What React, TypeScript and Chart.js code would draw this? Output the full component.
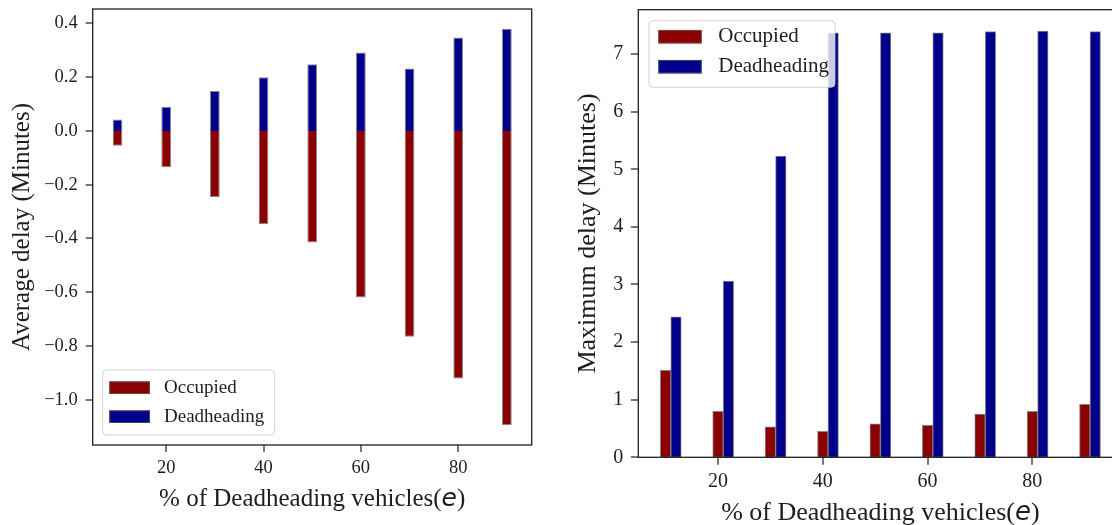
import React, { useEffect, useRef } from "react";
import { Chart, registerables } from "chart.js";

Chart.register(...registerables);

// ---------- data ----------
const categories = [10, 20, 30, 40, 50, 60, 70, 80, 90];
const seriesNames = ["Occupied", "Deadheading"];
const avgOccupied = [-0.055, -0.135, -0.246, -0.346, -0.415, -0.62, -0.766, -0.921, -1.095];
const avgDeadheading = [0.043, 0.09, 0.149, 0.2, 0.248, 0.292, 0.232, 0.348, 0.38];
const maxOccupied = [1.51, 0.8, 0.53, 0.45, 0.58, 0.555, 0.75, 0.8, 0.92];
const maxDeadheading = [2.44, 3.06, 5.23, 7.37, 7.37, 7.37, 7.39, 7.4, 7.39];
const xTicks = [20, 40, 60, 80];
const avgYTicks = [0.4, 0.2, 0, -0.2, -0.4, -0.6, -0.8, -1.0];
const maxYTicks = [0, 1, 2, 3, 4, 5, 6, 7];
const barWidthUnits = 2;
const deadheadingShift = 2; // second series drawn next to the first in the right panel

// ---------- styles ----------
const RED = "#8b0000";
const BLUE = "#00008b";
const EDGE = "rgba(95,95,95,0.75)";
const INK = "#1e1e1e";
const SERIF = "'Liberation Serif', 'Times New Roman', serif";

const spacing = categories[1] - categories[0];

function padRange(lo: number, hi: number, frac = 0.05): [number, number] {
  const r = hi - lo;
  return [lo - r * frac, hi + r * frac];
}

function fixSize(prop: "width" | "height", v: number) {
  return (s: any) => {
    s[prop] = v;
    s.paddingTop = 0;
    s.paddingBottom = 0;
    s.paddingLeft = 0;
    s.paddingRight = 0;
  };
}

const decorPlugin = {
  id: "decor",
  afterDatasetsDraw(chart: any, _args: any, opts: any) {
    const ctx = chart.ctx as CanvasRenderingContext2D;
    const a = chart.chartArea;
    ctx.save();
    // frame
    ctx.strokeStyle = INK;
    ctx.lineWidth = opts.frameWidth;
    ctx.strokeRect(a.left, a.top, a.right - a.left, a.bottom - a.top);

    // legend
    const L = opts.legend;
    const bx = a.left + L.dx;
    const by = L.fromBottom ? a.bottom - L.dy - L.h : a.top + L.dy;
    const r = 4;
    ctx.beginPath();
    ctx.moveTo(bx + r, by);
    ctx.lineTo(bx + L.w - r, by);
    ctx.quadraticCurveTo(bx + L.w, by, bx + L.w, by + r);
    ctx.lineTo(bx + L.w, by + L.h - r);
    ctx.quadraticCurveTo(bx + L.w, by + L.h, bx + L.w - r, by + L.h);
    ctx.lineTo(bx + r, by + L.h);
    ctx.quadraticCurveTo(bx, by + L.h, bx, by + L.h - r);
    ctx.lineTo(bx, by + r);
    ctx.quadraticCurveTo(bx, by, bx + r, by);
    ctx.closePath();
    ctx.fillStyle = "rgba(255,255,255,0.8)";
    ctx.fill();
    ctx.strokeStyle = "rgba(200,200,200,0.8)";
    ctx.lineWidth = 1;
    ctx.stroke();

    chart.data.datasets.forEach((ds: any, i: number) => {
      const cy = by + L.rowY[i];
      ctx.fillStyle = ds.backgroundColor;
      ctx.fillRect(bx + L.handleX, cy - L.handleH / 2, L.handleW, L.handleH);
      ctx.strokeStyle = EDGE;
      ctx.lineWidth = 1;
      ctx.strokeRect(bx + L.handleX + 0.5, cy - L.handleH / 2 + 0.5, L.handleW - 1, L.handleH - 1);
      ctx.fillStyle = INK;
      ctx.font = `${L.fontSize}px ${SERIF}`;
      ctx.textAlign = "left";
      ctx.textBaseline = "middle";
      ctx.fillText(ds.label, bx + L.textX, cy);
    });

    // x-axis title with italic math "e"
    const T = opts.xTitle;
    const parts = [
      { t: "% of Deadheading vehicles(", f: `${T.size}px ${SERIF}` },
      { t: "e", f: `italic ${T.size}px 'DejaVu Sans', sans-serif` },
      { t: ")", f: `${T.size}px ${SERIF}` },
    ];
    let total = 0;
    const widths = parts.map((p) => {
      ctx.font = p.f;
      const w = ctx.measureText(p.t).width;
      total += w;
      return w;
    });
    let x = (a.left + a.right) / 2 - total / 2;
    const y = a.bottom + T.baseline;
    ctx.fillStyle = INK;
    ctx.textAlign = "left";
    ctx.textBaseline = "alphabetic";
    parts.forEach((p, i) => {
      ctx.font = p.f;
      ctx.fillText(p.t, x, y);
      x += widths[i];
    });
    ctx.restore();
  },
};

function fmtAvg(v: number) {
  const s = Math.abs(v) < 1e-9 ? "0.0" : v.toFixed(1);
  return s.replace("-", "\u2212");
}

function makeLeft(canvas: HTMLCanvasElement) {
  const [xMin, xMax] = padRange(
    Math.min(...categories) - barWidthUnits / 2,
    Math.max(...categories) + barWidthUnits / 2
  );
  const [yMin, yMax] = padRange(Math.min(...avgOccupied), Math.max(...avgDeadheading));
  const barOpts = {
    borderColor: EDGE,
    borderWidth: 1,
    borderSkipped: "start",
    grouped: false,
    barPercentage: barWidthUnits / spacing,
    categoryPercentage: 1,
  };
  return new Chart(canvas, {
    type: "bar",
    data: {
      datasets: [
        {
          label: seriesNames[0],
          data: categories.map((c, i) => ({ x: c, y: avgOccupied[i] })),
          backgroundColor: RED,
          ...barOpts,
        },
        {
          label: seriesNames[1],
          data: categories.map((c, i) => ({ x: c, y: avgDeadheading[i] })),
          backgroundColor: BLUE,
          ...barOpts,
        },
      ],
    } as any,
    options: {
      animation: false,
      responsive: false,
      devicePixelRatio: 1,
      layout: { padding: { left: 0, top: 9, right: 24.3, bottom: 0 } },
      plugins: {
        legend: { display: false },
        tooltip: { enabled: false },
        decor: {
          frameWidth: 1.3,
          legend: {
            dx: 10, dy: 10, fromBottom: true, w: 172, h: 65,
            rowY: [17.7, 46.7], handleX: 6.6, handleW: 40.7, handleH: 12.6,
            textX: 61.3, fontSize: 19,
          },
          xTitle: { size: 25, baseline: 61 },
        },
      } as any,
      scales: {
        x: {
          type: "linear",
          min: xMin,
          max: xMax,
          offset: false,
          border: { display: false },
          grid: { display: true, offset: false, drawOnChartArea: false, lineWidth: 0, drawTicks: true, tickLength: 7, tickColor: INK, tickWidth: 1.2 },
          ticks: { color: INK, font: { family: SERIF, size: 18.5 }, padding: 5, maxRotation: 0, autoSkip: false, callback: (v: any) => String(v) },
          afterBuildTicks: (s: any) => { s.ticks = xTicks.map((v) => ({ value: v })); },
          afterFit: fixSize("height", 80),
        },
        y: {
          type: "linear",
          min: yMin,
          max: yMax,
          border: { display: false },
          grid: { display: true, drawOnChartArea: false, lineWidth: 0, drawTicks: true, tickLength: 7, tickColor: INK, tickWidth: 1.2 },
          ticks: { color: INK, font: { family: SERIF, size: 18.5 }, padding: 8, callback: (v: any) => fmtAvg(Number(v)) },
          afterBuildTicks: (s: any) => { s.ticks = avgYTicks.map((v) => ({ value: v })); },
          afterFit: fixSize("width", 92.7),
          title: { display: true, text: "Average delay (Minutes)", color: INK, font: { family: SERIF, size: 25 }, padding: { top: 7, bottom: 0 } },
        },
      } as any,
    },
    plugins: [decorPlugin as any],
  });
}

function makeRight(canvas: HTMLCanvasElement) {
  const shifted = categories.map((c) => c + deadheadingShift);
  const [xMin, xMax] = padRange(
    Math.min(...categories) - barWidthUnits / 2,
    Math.max(...shifted) + barWidthUnits / 2
  );
  const yMax = Math.max(...maxDeadheading, ...maxOccupied) * 1.05;
  const barOpts = {
    borderColor: EDGE,
    borderWidth: 1,
    borderSkipped: false,
    grouped: false,
    barPercentage: 1,
    categoryPercentage: 1,
  };
  return new Chart(canvas, {
    type: "bar",
    data: {
      datasets: [
        {
          label: seriesNames[0],
          data: categories.map((c, i) => ({ x: c, y: maxOccupied[i] })),
          backgroundColor: RED,
          ...barOpts,
        },
        {
          label: seriesNames[1],
          data: shifted.map((c, i) => ({ x: c, y: maxDeadheading[i] })),
          backgroundColor: BLUE,
          ...barOpts,
        },
      ],
    } as any,
    options: {
      animation: false,
      responsive: false,
      devicePixelRatio: 1,
      layout: { padding: { left: 0, top: 9.7, right: 33.5, bottom: 0 } },
      plugins: {
        legend: { display: false },
        tooltip: { enabled: false },
        decor: {
          frameWidth: 1.3,
          legend: {
            dx: 10.7, dy: 11, fromBottom: false, w: 186, h: 66.6,
            rowY: [16, 46], handleX: 9.3, handleW: 43.4, handleH: 13.5,
            textX: 69.3, fontSize: 21,
          },
          xTitle: { size: 26, baseline: 62.7 },
        },
      } as any,
      scales: {
        x: {
          type: "linear",
          min: xMin,
          max: xMax,
          offset: false,
          border: { display: false },
          grid: { display: true, offset: false, drawOnChartArea: false, lineWidth: 0, drawTicks: true, tickLength: 7.5, tickColor: INK, tickWidth: 1.2 },
          ticks: { color: INK, font: { family: SERIF, size: 20 }, padding: 5, maxRotation: 0, autoSkip: false, callback: (v: any) => String(v) },
          afterBuildTicks: (s: any) => { s.ticks = xTicks.map((v) => ({ value: v })); },
          afterFit: fixSize("height", 67.7),
        },
        y: {
          type: "linear",
          min: 0,
          max: yMax,
          border: { display: false },
          grid: { display: true, drawOnChartArea: false, lineWidth: 0, drawTicks: true, tickLength: 7.5, tickColor: INK, tickWidth: 1.2 },
          ticks: { color: INK, font: { family: SERIF, size: 20 }, padding: 7.5, callback: (v: any) => String(v) },
          afterBuildTicks: (s: any) => { s.ticks = maxYTicks.map((v) => ({ value: v })); },
          afterFit: fixSize("width", 82.3),
          title: { display: true, text: "Maximum delay (Minutes)", color: INK, font: { family: SERIF, size: 26 }, padding: { top: 17, bottom: 0 } },
        },
      } as any,
    },
    plugins: [decorPlugin as any],
  });
}

export default function App() {
  const leftRef = useRef<HTMLCanvasElement | null>(null);
  const rightRef = useRef<HTMLCanvasElement | null>(null);

  useEffect(() => {
    const c1 = leftRef.current ? makeLeft(leftRef.current) : null;
    const c2 = rightRef.current ? makeRight(rightRef.current) : null;
    return () => {
      c1 && c1.destroy();
      c2 && c2.destroy();
    };
  }, []);

  return (
    <div
      style={{
        position: "fixed",
        left: 0,
        top: 0,
        width: 1112,
        height: 525,
        overflow: "hidden",
        background: "#fff",
      }}
    >
      <canvas ref={leftRef} width={556} height={525} style={{ position: "absolute", left: 0, top: 0 }} />
      <canvas ref={rightRef} width={600} height={525} style={{ position: "absolute", left: 556, top: 0 }} />
    </div>
  );
}
